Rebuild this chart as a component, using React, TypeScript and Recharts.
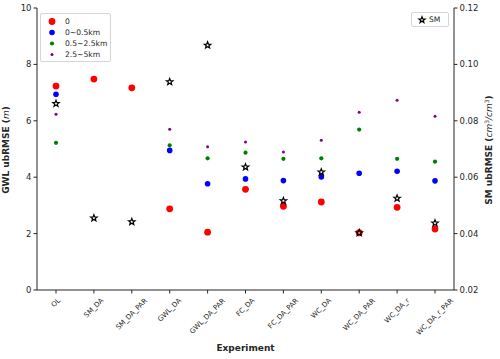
import React from "react";
import { ComposedChart, Scatter, XAxis, YAxis } from "recharts";

const categories = ["OL", "SM_DA", "SM_DA_PAR", "GWL_DA", "GWL_DA_PAR", "FC_DA", "FC_DA_PAR", "WC_DA", "WC_DA_PAR", "WC_DA_r", "WC_DA_r_PAR"];
const gwl0 = [7.23, 7.48, 7.17, 2.88, 2.05, 3.57, 2.97, 3.12, 2.03, 2.93, 2.16];
const gwl05 = [6.94, null, null, 4.95, 3.77, 3.94, 3.88, 4.01, 4.14, 4.21, 3.87];
const gwl25 = [5.22, null, null, 5.13, 4.67, 4.87, 4.65, 4.67, 5.69, 4.65, 4.55];
const gwl5 = [6.23, null, null, 5.7, 5.08, 5.25, 4.89, 5.31, 6.3, 6.73, 6.16];
const smRmse = [0.0861, 0.0455, 0.0442, 0.0938, 0.1068, 0.0636, 0.0516, 0.0618, 0.0403, 0.0525, 0.0437];

const leftTicks = [0, 2, 4, 6, 8, 10];
const rightTicks = [0.02, 0.04, 0.06, 0.08, 0.1, 0.12];

const data = categories.map((name, i) => ({
  name,
  g0: gwl0[i],
  g05: gwl05[i],
  g25: gwl25[i],
  g5: gwl5[i],
  sm: smRmse[i],
}));

const FONT = "DejaVu Sans";
const INK = "#262626";

// rough DejaVu Sans advance widths (em) for tick text length
const W: Record<string, number> = {
  A: 0.684, C: 0.698, D: 0.77, F: 0.575, G: 0.775, L: 0.557, M: 0.863, O: 0.787,
  P: 0.603, R: 0.695, S: 0.635, W: 0.989, _: 0.5, r: 0.411,
};
const textLen = (s: string, fs: number) => s.split("").reduce((a, c) => a + (W[c] ?? 0.6), 0) * fs;

const XTick = (props: any) => {
  const { x, payload } = props;
  const fs = 7;
  const L = textLen(payload.value, fs);
  const h = fs * 1.0;
  const cy = 297 + (L + h) * 0.3536;
  return (
    <text
      x={x}
      y={cy}
      textAnchor="middle"
      dominantBaseline="central"
      fontSize={fs}
      fontFamily={FONT}
      fill={INK}
      transform={`rotate(-45, ${x}, ${cy})`}
    >
      {payload.value}
    </text>
  );
};

const dot = (key: string, r: number, color: string) => (props: any) => {
  const v = props.payload?.[key];
  if (v == null || !Number.isFinite(props.cx) || !Number.isFinite(props.cy)) return <g />;
  return <circle cx={props.cx} cy={props.cy} r={r} fill={color} />;
};

const starPath = (cx: number, cy: number, R: number) => {
  const rIn = R * 0.42;
  const pts: string[] = [];
  for (let k = 0; k < 10; k++) {
    const rad = k % 2 === 0 ? R : rIn;
    const a = -Math.PI / 2 + (k * Math.PI) / 5;
    pts.push(`${(cx + rad * Math.cos(a)).toFixed(2)},${(cy + rad * Math.sin(a)).toFixed(2)}`);
  }
  return `M${pts.join("L")}Z`;
};

const starShape = (props: any) => {
  if (!Number.isFinite(props.cx) || !Number.isFinite(props.cy)) return <g />;
  return <path d={starPath(props.cx, props.cy, 3.4)} fill="#fff" fillOpacity={0.6} stroke="#000" strokeWidth={1.2} />;
};

const legendItems = [
  { label: "0", r: 3.4, color: "#ff0000" },
  { label: "0~0.5km", r: 2.8, color: "#0000ff" },
  { label: "0.5~2.5km", r: 2.1, color: "#008000" },
  { label: "2.5~5km", r: 1.5, color: "#800080" },
];

const boxStyle: React.CSSProperties = {
  position: "absolute",
  background: "rgba(255,255,255,0.8)",
  border: "1px solid #d6d6d6",
  borderRadius: 2,
  boxSizing: "border-box",
  fontFamily: FONT,
  fontSize: 7.6,
  color: INK,
};

export default function App() {
  return (
    <div style={{ position: "relative", width: 500, height: 359, fontFamily: FONT, background: "#fff" }}>
      <style>{"body{margin:0}"}</style>
      <ComposedChart width={500} height={359} data={data} margin={{ top: 8, right: 0, bottom: 0, left: 0 }}>
        <XAxis
          dataKey="name"
          height={69}
          interval={0}
          padding={{ left: 19, right: 19 }}
          tick={<XTick />}
          tickSize={3.5}
          stroke={INK}
          axisLine={{ stroke: INK, strokeWidth: 1 }}
          tickLine={{ stroke: INK }}
        />
        <XAxis
          xAxisId="top"
          dataKey="name"
          orientation="top"
          height={0}
          padding={{ left: 19, right: 19 }}
          tick={false}
          tickLine={false}
          axisLine={{ stroke: INK, strokeWidth: 1 }}
        />
        <YAxis
          yAxisId="left"
          domain={[0, 10]}
          ticks={leftTicks}
          width={37}
          tickSize={3.5}
          tickMargin={2}
          axisLine={{ stroke: INK, strokeWidth: 1 }}
          tickLine={{ stroke: INK }}
          tick={{ fontSize: 8.5, fill: INK, fontFamily: FONT }}
        />
        <YAxis
          yAxisId="right"
          orientation="right"
          domain={[0.02, 0.12]}
          ticks={rightTicks}
          width={46}
          tickSize={3.5}
          tickMargin={2}
          tickFormatter={(v: number) => v.toFixed(2)}
          axisLine={{ stroke: INK, strokeWidth: 1 }}
          tickLine={{ stroke: INK }}
          tick={{ fontSize: 8.5, fill: INK, fontFamily: FONT }}
        />
        <Scatter yAxisId="left" dataKey="g0" shape={dot("g0", 3.4, "#ff0000")} isAnimationActive={false} />
        <Scatter yAxisId="left" dataKey="g05" shape={dot("g05", 2.8, "#0000ff")} isAnimationActive={false} />
        <Scatter yAxisId="left" dataKey="g25" shape={dot("g25", 2.1, "#008000")} isAnimationActive={false} />
        <Scatter yAxisId="left" dataKey="g5" shape={dot("g5", 1.5, "#800080")} isAnimationActive={false} />
        <Scatter yAxisId="right" dataKey="sm" shape={starShape} isAnimationActive={false} />
      </ComposedChart>

      {/* axis titles */}
      <svg width={500} height={359} style={{ position: "absolute", left: 0, top: 0, pointerEvents: "none" }}>
        <text x={0} y={0} transform="translate(9,150) rotate(-90)" textAnchor="middle" fontSize={9} fontFamily={FONT} fill={INK}>
          <tspan fontWeight="bold">GWL ubRMSE (</tspan>
          <tspan fontStyle="italic">m</tspan>
          <tspan fontWeight="bold">)</tspan>
        </text>
        <text x={0} y={0} transform="translate(492,150) rotate(-90)" textAnchor="middle" fontSize={9} fontFamily={FONT} fill={INK}>
          <tspan fontWeight="bold">SM ubRMSE (</tspan>
          <tspan fontStyle="italic">cm</tspan>
          <tspan fontSize={6} dy={-3.5}>3</tspan>
          <tspan fontStyle="italic" dy={3.5}>/cm</tspan>
          <tspan fontSize={6} dy={-3.5}>3</tspan>
          <tspan fontWeight="bold" dy={3.5}>)</tspan>
        </text>
        <text x={245.5} y={351} textAnchor="middle" fontSize={9} fontWeight="bold" fontFamily={FONT} fill={INK}>
          Experiment
        </text>
      </svg>

      {/* legends */}
      <div style={{ ...boxStyle, left: 40, top: 13, width: 71, height: 49, padding: "2px 0 0 0" }}>
        {legendItems.map((it) => (
          <div key={it.label} style={{ display: "flex", alignItems: "center", height: 11, lineHeight: "11px" }}>
            <svg width={24} height={11} style={{ flex: "none" }}>
              <circle cx={11} cy={5.5} r={it.r} fill={it.color} />
            </svg>
            <span>{it.label}</span>
          </div>
        ))}
      </div>
      <div style={{ ...boxStyle, left: 411, top: 12, width: 38, height: 15, display: "flex", alignItems: "center" }}>
        <svg width={17} height={13} style={{ flex: "none" }}>
          <path d={starPath(10, 7, 3.2)} fill="#fff" fillOpacity={0.6} stroke="#000" strokeWidth={1.2} />
        </svg>
        <span>SM</span>
      </div>
    </div>
  );
}
